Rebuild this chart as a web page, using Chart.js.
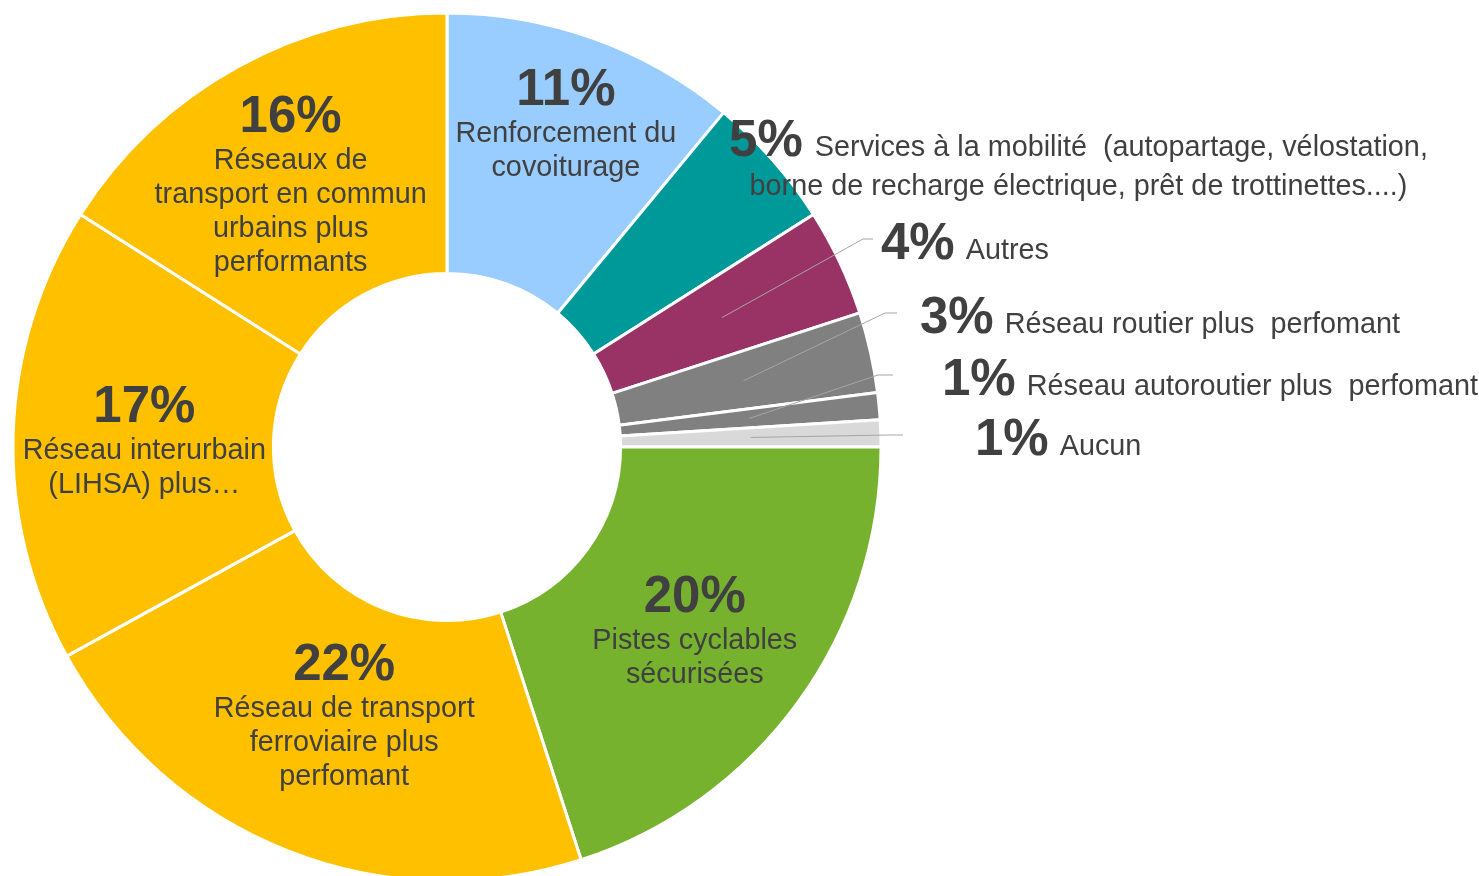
<!DOCTYPE html>
<html>
<head>
<meta charset="utf-8">
<script src="https://cdn.jsdelivr.net/npm/chart.js@4"></script>
<style>
  html, body { margin: 0; padding: 0; background: #fff; overflow: hidden; }
  #wrap { position: relative; width: 1479px; height: 894px; }
</style>
</head>
<body>
<div id="wrap"><canvas id="donut"></canvas></div>
<script>
// categories, clockwise from 12 o'clock
const categories = [
  'Renforcement du covoiturage',
  'Services à la mobilité  (autopartage, vélostation, borne de recharge électrique, prêt de trottinettes....)',
  'Autres',
  'Réseau routier plus  perfomant',
  'Réseau autoroutier plus  perfomant',
  'Aucun',
  'Pistes cyclables sécurisées',
  'Réseau de transport ferroviaire plus perfomant',
  'Réseau interurbain (LIHSA) plus…',
  'Réseaux de transport en commun urbains plus performants'
];
const shares = [11, 5, 4, 3, 1, 1, 20, 22, 17, 16];
const sliceColors = ['#99CCFF', '#009999', '#993366', '#808080', '#808080', '#D9D9D9',
                     '#77B22F', '#FFC000', '#FFC000', '#FFC000'];

// label text as wrapped in the picture
const labelLines = [
  ['Renforcement du', 'covoiturage'],
  ['Services à la mobilité  (autopartage, vélostation,', 'borne de recharge électrique, prêt de trottinettes....)'],
  ['Autres'],
  ['Réseau routier plus  perfomant'],
  ['Réseau autoroutier plus  perfomant'],
  ['Aucun'],
  ['Pistes cyclables', 'sécurisées'],
  ['Réseau de transport', 'ferroviaire plus', 'perfomant'],
  ['Réseau interurbain', '(LIHSA) plus…'],
  ['Réseaux de', 'transport en commun', 'urbains plus', 'performants']
];

// label placement (layout only): inside labels nudge from the ring centroid,
// outside labels are placed relative to the doughnut centre
const labelLayout = [
  { mode: 'in', nx: 16, ny: -39 },
  { mode: 'block', dx: 631.5, dy: -291 },
  { mode: 'out', dx: 434, dy: -188, lineEnd: 426, elbow: 10 },
  { mode: 'out', dx: 473, dy: -114, lineEnd: 450, elbow: 12 },
  { mode: 'out', dx: 495, dy: -52, lineEnd: 446, elbow: 15 },
  { mode: 'out', dx: 528, dy: 8, lineEnd: 456, elbow: 15 },
  { mode: 'in', nx: 2, ny: 4 },
  { mode: 'in', nx: 9, ny: -15 },
  { mode: 'in', nx: 1, ny: 2 },
  { mode: 'in', nx: -10, ny: 2.5 }
];

const FONT = '"Liberation Sans", Arial, sans-serif';
const PCT_FONT = 'bold 51px ' + FONT;
const TXT_FONT = '28.8px ' + FONT;
const INK = '#404040';

const labelPlugin = {
  id: 'sliceLabels',
  afterDatasetsDraw(chart) {
    const ctx = chart.ctx;
    const arcs = chart.getDatasetMeta(0).data;
    const total = shares.reduce((a, b) => a + b, 0);
    ctx.save();
    ctx.fillStyle = INK;
    arcs.forEach((arc, i) => {
      const p = arc.getProps(['x', 'y', 'startAngle', 'endAngle', 'innerRadius', 'outerRadius'], true);
      const mid = (p.startAngle + p.endAngle) / 2;
      const rMid = (p.innerRadius + p.outerRadius) / 2;
      const ax = p.x + Math.cos(mid) * rMid;
      const ay = p.y + Math.sin(mid) * rMid;
      const pct = Math.round(shares[i] / total * 100) + '%';
      const lines = labelLines[i];
      const L = labelLayout[i];

      if (L.mode === 'in') {
        const h = 36 + 37 + 34 * (lines.length - 1);
        const cx = ax + L.nx;
        const top = ay + L.ny - h / 2;
        ctx.textAlign = 'center';
        ctx.textBaseline = 'alphabetic';
        ctx.font = PCT_FONT;
        ctx.fillText(pct, cx, top + 36);
        ctx.font = TXT_FONT;
        lines.forEach((t, k) => ctx.fillText(t, cx, top + 36 + 37 + 34 * k));
      } else if (L.mode === 'block') {
        const cx = p.x + L.dx;
        const base = p.y + L.dy;
        ctx.textBaseline = 'alphabetic';
        ctx.textAlign = 'left';
        ctx.font = PCT_FONT;
        const wp = ctx.measureText(pct).width;
        ctx.font = TXT_FONT;
        const w1 = ctx.measureText(lines[0]).width;
        const x0 = cx - (wp + 12 + w1) / 2;
        ctx.font = PCT_FONT;
        ctx.fillText(pct, x0, base);
        ctx.font = TXT_FONT;
        ctx.fillText(lines[0], x0 + wp + 12, base);
        ctx.textAlign = 'center';
        ctx.fillText(lines[1], cx, base + 39);
      } else {
        const lx = p.x + L.dx;
        const base = p.y + L.dy;
        const ly = base - 20;
        const ex = p.x + L.lineEnd;
        // leader line
        ctx.save();
        ctx.strokeStyle = '#A6A6A6';
        ctx.lineWidth = 1;
        ctx.beginPath();
        ctx.moveTo(ax, ay);
        ctx.lineTo(ex - L.elbow, ly);
        ctx.lineTo(ex, ly);
        ctx.stroke();
        ctx.restore();
        ctx.textAlign = 'left';
        ctx.textBaseline = 'alphabetic';
        ctx.font = PCT_FONT;
        const wp = ctx.measureText(pct).width;
        ctx.fillText(pct, lx, base);
        ctx.font = TXT_FONT;
        ctx.fillText(lines[0], lx + wp + 11, base);
      }
    });
    ctx.restore();
  }
};

new Chart(document.getElementById('donut'), {
  type: 'doughnut',
  data: {
    labels: categories,
    datasets: [{
      data: shares,
      backgroundColor: sliceColors,
      borderColor: '#ffffff',
      borderWidth: 3
    }]
  },
  options: {
    responsive: true,
    maintainAspectRatio: false,
    animation: false,
    cutout: '40%',
    radius: 434,
    layout: { padding: { left: 14, top: 14, right: 599, bottom: 14 } },
    plugins: {
      legend: { display: false },
      tooltip: { enabled: false }
    }
  },
  plugins: [labelPlugin]
});
</script>
</body>
</html>
